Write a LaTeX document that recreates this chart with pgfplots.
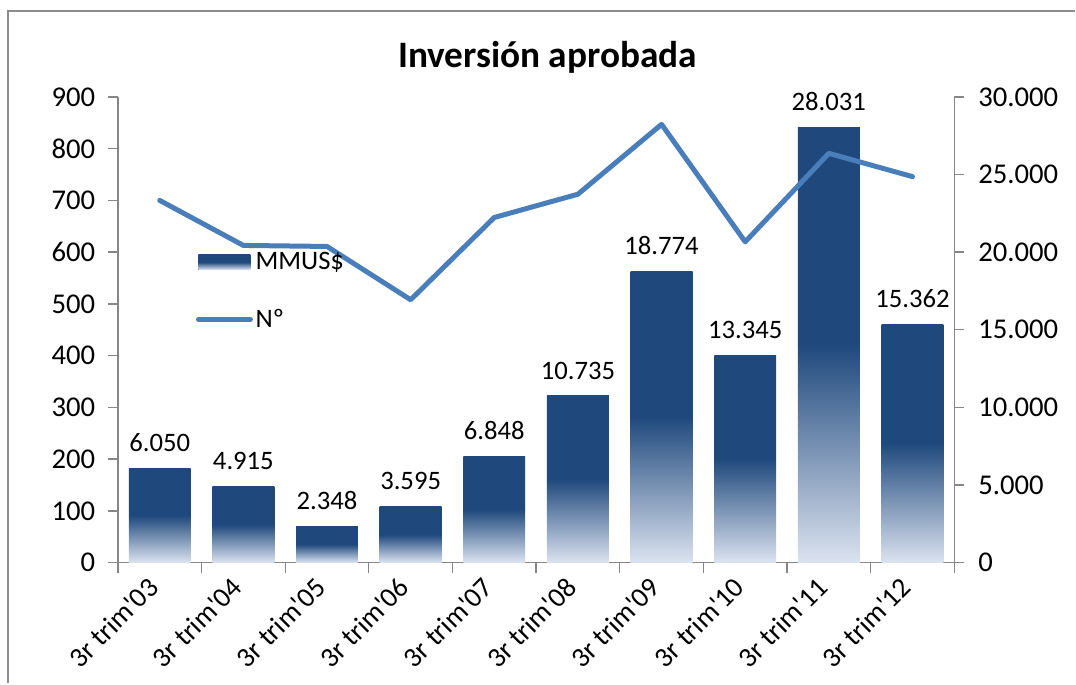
\documentclass[border=0pt]{standalone}
\usepackage{pgfplots}
\pgfplotsset{compat=1.18}
\usepackage{fontspec}
\setmainfont{Carlito}
\definecolor{barc}{HTML}{1F497D}
\definecolor{barlight}{HTML}{DCE3F0}
\definecolor{linec}{HTML}{4A7EBB}
\definecolor{axc}{HTML}{868686}
\definecolor{framec}{HTML}{8C8C8C}
\begin{document}
\begin{tikzpicture}
\pgfplotsset{
  /pgf/number format/assume math mode=true,
  common/.style={
    scale only axis, width=627.75pt, height=349.5pt,
    xmin=-0.5, xmax=9.5, ymin=0,
    axis line style={axc, line width=1pt},
    tick style={axc, line width=1pt},
    tick align=outside, major tick length=7.5pt,
    ticklabel style={font=\fontsize{21.5}{24}\selectfont, text=black},
    clip=false,
  },
  mybar/.style={ybar, bar shift=0pt, bar width=0.74, draw=none,
    top color=barc, bottom color=barlight, middle color=barc,
    nodes near coords,
    nodes near coords style={font=\fontsize{20}{23}\selectfont, text=black, yshift=9pt,
      /pgf/number format/.cd, fixed, 1000 sep={.}},
  },
}
\begin{axis}[common, ymax=30000,
  axis y line*=right, axis x line*=bottom,
  ytick={0,5000,...,30000}, scaled y ticks=false,
  yticklabel style={xshift=7pt, /pgf/number format/.cd, fixed, 1000 sep={.}},
  xtick={-0.5,0.5,...,9.5}, xticklabels={},
  extra x ticks={0,1,...,9},
  extra x tick labels={3r trim\textquotesingle 03,3r trim\textquotesingle 04,3r trim\textquotesingle 05,3r trim\textquotesingle 06,3r trim\textquotesingle 07,3r trim\textquotesingle 08,3r trim\textquotesingle 09,3r trim\textquotesingle 10,3r trim\textquotesingle 11,3r trim\textquotesingle 12},
  extra x tick style={major tick length=0pt, ticklabel style={font=\fontsize{21}{24}\selectfont, xshift=-10pt, yshift=-5pt, rotate=45, anchor=north east}},
]
\addplot[mybar] coordinates {(0,6050)};
\addplot[mybar] coordinates {(1,4915)};
\addplot[mybar] coordinates {(2,2348)};
\addplot[mybar] coordinates {(3,3595)};
\addplot[mybar] coordinates {(4,6848)};
\addplot[mybar] coordinates {(5,10735)};
\addplot[mybar] coordinates {(6,18774)};
\addplot[mybar] coordinates {(7,13345)};
\addplot[mybar] coordinates {(8,28031)};
\addplot[mybar] coordinates {(9,15362)};
\end{axis}
\begin{axis}[common, ymax=900,
  axis y line*=left, axis x line=none,
  ytick={0,100,...,900},
  yticklabel style={xshift=-6pt},
  legend style={draw=none, fill=none, inner sep=0pt, at={(rel axis cs:0.093,0.672)}, anchor=north west,
    row sep=24pt, font=\fontsize{20}{23}\selectfont},
  legend cell align=left,
]
\addlegendimage{legend image code/.code={\fill[draw=none, top color=barc, bottom color=barlight, middle color=barc] (0pt,-5.5pt) rectangle (39pt,5.5pt);}}
\addlegendentry{MMUS\$}
\addplot[linec, line width=3.75pt, line join=round, line cap=round, mark=none,
  legend image code/.code={\draw[linec, line width=3.75pt, line cap=round] (0pt,0pt) -- (39pt,0pt);}] coordinates {
 (0,700) (1,613) (2,611) (3,508) (4,667) (5,712) (6,847) (7,620) (8,791) (9,746)
};
\addlegendentry{Nº}
\end{axis}
\node[font=\fontsize{28}{33}\selectfont\bfseries] at (322.5pt,379.5pt) {Inversión aprobada};
\draw[framec, line width=1.2pt] (-82.5pt,-90.75pt) -- (-82.5pt,414pt) -- (718.5pt,414pt);
\path[use as bounding box] (-88.5pt,-90.75pt) rectangle (718.5pt,422.25pt);
\end{tikzpicture}
\end{document}
